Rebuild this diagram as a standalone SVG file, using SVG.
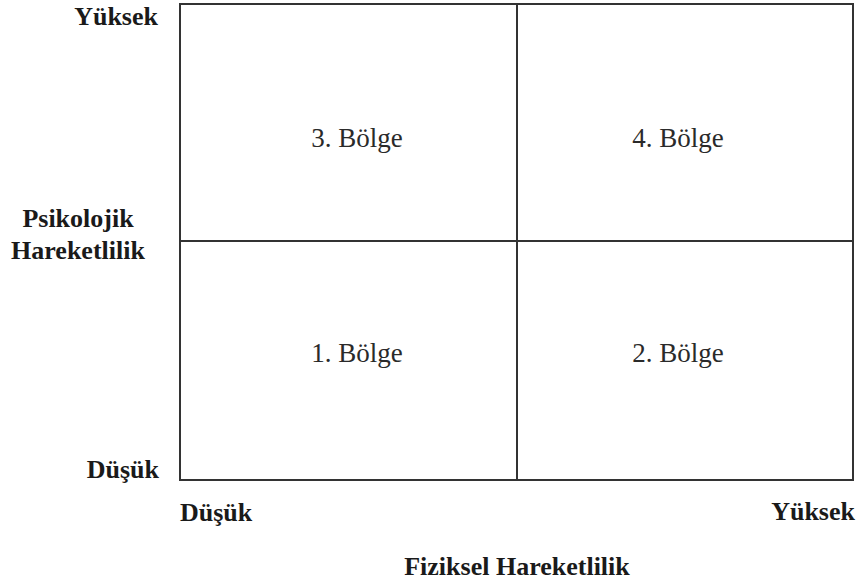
<svg xmlns="http://www.w3.org/2000/svg" width="859" height="585" viewBox="0 0 859 585">
<style>
.b{font-family:'Liberation Serif','Times New Roman',serif;font-weight:bold;font-size:26px;fill:#1a1a1a}
.q{font-family:'Liberation Serif','Times New Roman',serif;font-size:27px;fill:#2a2a2a;text-anchor:middle}
.ln{stroke:#333;stroke-width:2;fill:none}
</style>
<rect width="859" height="585" fill="#fff"/>
<g id="connectors">
<rect class="ln" x="180" y="4" width="673" height="476"/>
<line class="ln" x1="517" y1="4" x2="517" y2="480"/>
<line class="ln" x1="180" y1="241" x2="853" y2="241"/>
</g>
<g id="q3"><text class="q" x="357" y="147">3. Bölge</text></g>
<g id="q4"><text class="q" x="678" y="147">4. Bölge</text></g>
<g id="q1"><text class="q" x="357" y="362">1. Bölge</text></g>
<g id="q2"><text class="q" x="678" y="362">2. Bölge</text></g>
<g id="labels">
<text class="b" x="158" y="25" text-anchor="end">Yüksek</text>
<text class="b" x="78" y="227" text-anchor="middle">Psikolojik</text>
<text class="b" x="78" y="259" text-anchor="middle">Hareketlilik</text>
<text class="b" x="159" y="478" text-anchor="end">Düşük</text>
<text class="b" x="180" y="521">Düşük</text>
<text class="b" x="855" y="520" text-anchor="end">Yüksek</text>
<text class="b" x="517" y="575" text-anchor="middle">Fiziksel Hareketlilik</text>
</g>
</svg>
